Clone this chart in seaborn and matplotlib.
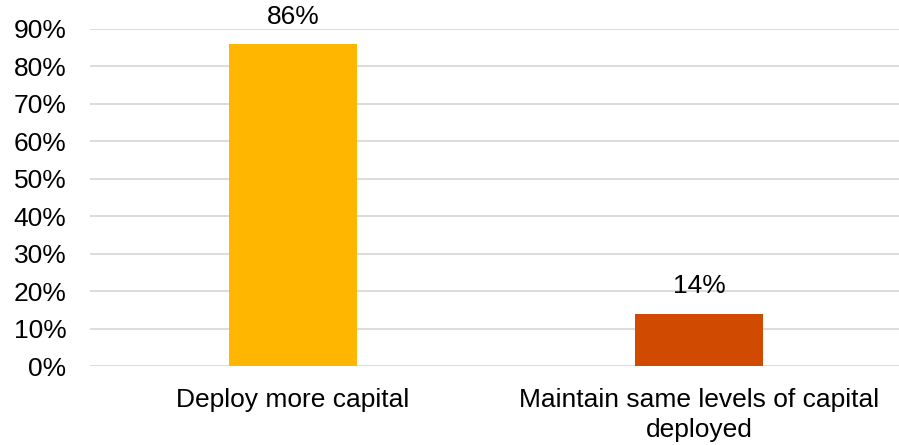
import matplotlib
matplotlib.use("Agg")
import matplotlib.pyplot as plt
import seaborn as sns
import pandas as pd
from matplotlib.ticker import PercentFormatter

categories = ["Deploy more capital", "Maintain same levels of capital\ndeployed"]
shares = [0.86, 0.14]
bar_colors = ["#FFB600", "#D04A02"]

df = pd.DataFrame({"category": categories, "share": shares})

sns.set_style("white")
plt.rcParams["font.family"] = ["Liberation Sans", "DejaVu Sans"]

fig = plt.figure(figsize=(8.99, 4.45), dpi=100)
ax = fig.add_axes([90 / 899, 79 / 445, 812 / 899, 337 / 445])

sns.barplot(data=df, x="category", y="share", hue="category", palette=bar_colors,
            width=0.315, saturation=1, legend=False, ax=ax, zorder=3)

ax.set_ylim(0, 0.9)
ax.set_xlim(-0.5, 1.5)
ax.set_yticks([i / 10 for i in range(10)])
ax.yaxis.set_major_formatter(PercentFormatter(1.0, decimals=0))
ax.grid(axis="y", color="#D9D9D9", linewidth=1.3, zorder=0)
ax.set_axisbelow(True)
for s in ax.spines.values():
    s.set_visible(False)
ax.tick_params(axis="y", length=0, pad=17, labelsize=19, labelcolor="#000000")
ax.tick_params(axis="x", length=0, pad=16, labelsize=19, labelcolor="#000000")
for lbl in ax.get_xticklabels():
    lbl.set_linespacing(1.3)
ax.set_xlabel("")
ax.set_ylabel("")

for container in ax.containers:
    container.patches[0].set_edgecolor("none")
    ax.bar_label(container, labels=[f"{v*100:.0f}%" for v in container.datavalues],
                 padding=11, fontsize=19, color="#000000")

fig.savefig("out.png", dpi=100)
